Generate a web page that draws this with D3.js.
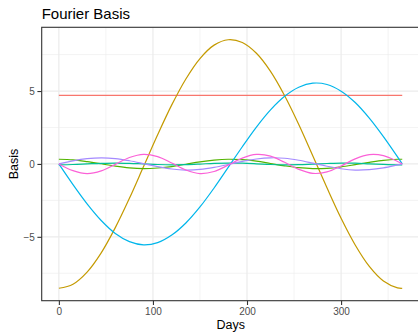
<!DOCTYPE html>
<html>
<head>
<meta charset="utf-8">
<script src="https://cdn.jsdelivr.net/npm/d3@7"></script>
<style>
  html, body { margin: 0; padding: 0; background: #fff; }
  svg { display: block; font-family: "Liberation Sans", Arial, Helvetica, sans-serif; }
</style>
</head>
<body>
<svg id="chart" width="418" height="333"></svg>
<script>
// Sample days over the year
const days = [0, 15, 30, 45, 60, 75, 90, 105, 120, 135, 150, 165, 180, 195, 210, 225, 240, 255, 270, 285, 300, 315, 330, 345, 360, 365];

// Weighted Fourier basis functions evaluated at those days
const constVals = [4.70, 4.70, 4.70, 4.70, 4.70, 4.70, 4.70, 4.70, 4.70, 4.70, 4.70, 4.70, 4.70, 4.70, 4.70, 4.70, 4.70, 4.70, 4.70, 4.70, 4.70, 4.70, 4.70, 4.70, 4.70, 4.70];
const cos1Vals = [-8.53, -8.25, -7.42, -6.10, -4.37, -2.36, -0.18, 2.00, 4.05, 5.83, 7.23, 8.15, 8.52, 8.33, 7.59, 6.35, 4.68, 2.71, 0.55, -1.64, -3.73, -5.56, -7.03, -8.03, -8.50, -8.53];
const cos2Vals = [0.32, 0.28, 0.16, 0.01, -0.15, -0.27, -0.32, -0.28, -0.18, -0.02, 0.14, 0.26, 0.32, 0.29, 0.19, 0.03, -0.13, -0.26, -0.32, -0.30, -0.20, -0.05, 0.11, 0.25, 0.32, 0.32];
const cos3Vals = [-0.06, -0.04, 0.00, 0.04, 0.06, 0.04, 0.00, -0.04, -0.06, -0.05, -0.01, 0.04, 0.06, 0.05, 0.01, -0.04, -0.06, -0.05, -0.01, 0.03, 0.06, 0.05, 0.01, -0.03, -0.06, -0.06];
const sin1Vals = [0.00, -1.42, -2.74, -3.88, -4.77, -5.33, -5.55, -5.40, -4.88, -4.05, -2.95, -1.65, -0.24, 1.18, 2.53, 3.71, 4.64, 5.26, 5.54, 5.45, 4.99, 4.21, 3.14, 1.87, 0.48, 0.00];
const sin2Vals = [0.00, 0.21, 0.36, 0.42, 0.37, 0.22, 0.02, -0.19, -0.35, -0.42, -0.38, -0.24, -0.04, 0.18, 0.34, 0.42, 0.39, 0.25, 0.05, -0.16, -0.33, -0.42, -0.39, -0.27, -0.07, 0.00];
const sin3Vals = [0.00, -0.46, -0.66, -0.48, -0.03, 0.44, 0.66, 0.50, 0.06, -0.42, -0.66, -0.52, -0.08, 0.40, 0.65, 0.54, 0.11, -0.37, -0.65, -0.55, -0.14, 0.35, 0.64, 0.57, 0.17, 0.00];

const basisNames = ["const", "cos1", "cos2", "cos3", "sin1", "sin2", "sin3"];
const basisValues = [constVals, cos1Vals, cos2Vals, cos3Vals, sin1Vals, sin2Vals, sin3Vals];
const basisColors = ["#F8766D", "#C49A00", "#53B400", "#00C094", "#00B6EB", "#A58AFF", "#FB61D7"];

const xTicks = [0, 100, 200, 300];
const xMinor = [50, 150, 250, 350];
const yTicks = [-5, 0, 5];
const yMinor = [-7.5, -2.5, 2.5, 7.5];

const titleText = "Fourier Basis";
const xTitle = "Days";
const yTitle = "Basis";

// Layout
const panel = { left: 41.7, top: 27.3, right: 419.4, bottom: 300.7 };

const svg = d3.select("#chart");

// Scales with 5% expansion on both sides
function expand(ext) {
  const d = (ext[1] - ext[0]) * 0.05;
  return [ext[0] - d, ext[1] + d];
}
const allVals = basisValues.flat();
const x = d3.scaleLinear().domain(expand(d3.extent(days))).range([panel.left, panel.right]);
const y = d3.scaleLinear().domain(expand(d3.extent(allVals))).range([panel.bottom, panel.top]);

// Panel background
svg.append("rect")
  .attr("x", panel.left).attr("y", panel.top)
  .attr("width", panel.right - panel.left).attr("height", panel.bottom - panel.top)
  .attr("fill", "#fff");

// Grid lines
const grid = svg.append("g");
grid.selectAll(".ymin").data(yMinor).join("line")
  .attr("x1", panel.left).attr("x2", panel.right)
  .attr("y1", d => y(d)).attr("y2", d => y(d))
  .attr("stroke", "#EBEBEB").attr("stroke-width", 0.6);
grid.selectAll(".xmin").data(xMinor).join("line")
  .attr("y1", panel.top).attr("y2", panel.bottom)
  .attr("x1", d => x(d)).attr("x2", d => x(d))
  .attr("stroke", "#EBEBEB").attr("stroke-width", 0.6);
grid.selectAll(".ymaj").data(yTicks).join("line")
  .attr("x1", panel.left).attr("x2", panel.right)
  .attr("y1", d => y(d)).attr("y2", d => y(d))
  .attr("stroke", "#EBEBEB").attr("stroke-width", 1.2);
grid.selectAll(".xmaj").data(xTicks).join("line")
  .attr("y1", panel.top).attr("y2", panel.bottom)
  .attr("x1", d => x(d)).attr("x2", d => x(d))
  .attr("stroke", "#EBEBEB").attr("stroke-width", 1.2);

// Basis curves
const line = d3.line()
  .x((d, i) => x(days[i]))
  .y(d => y(d))
  .curve(d3.curveCatmullRom.alpha(0.5));

svg.append("g").selectAll("path")
  .data(basisValues)
  .join("path")
  .attr("d", d => line(d))
  .attr("fill", "none")
  .attr("stroke", (d, i) => basisColors[i])
  .attr("stroke-width", 1.2);

// Panel border
svg.append("rect")
  .attr("x", panel.left).attr("y", panel.top)
  .attr("width", panel.right - panel.left).attr("height", panel.bottom - panel.top)
  .attr("fill", "none").attr("stroke", "#333333").attr("stroke-width", 1.1);

// Axes
const xAxis = d3.axisBottom(x).tickValues(xTicks).tickSize(4.3).tickPadding(2.5).tickSizeOuter(0);
const yAxis = d3.axisLeft(y).tickValues(yTicks).tickSize(4.3).tickPadding(2.5).tickSizeOuter(0);

const gx = svg.append("g").attr("transform", `translate(0,${panel.bottom})`).call(xAxis);
const gy = svg.append("g").attr("transform", `translate(${panel.left},0)`).call(yAxis);
[gx, gy].forEach(g => {
  g.select(".domain").remove();
  g.selectAll(".tick line").attr("stroke", "#333333").attr("stroke-width", 1.1);
  g.selectAll(".tick text").attr("fill", "#4D4D4D").style("font-size", "10px")
    .style("font-family", "'Liberation Sans', Arial, sans-serif");
});

// Titles
svg.append("text")
  .attr("x", panel.left).attr("y", 18.5)
  .attr("fill", "#000").style("font-size", "15px")
  .text(titleText);

svg.append("text")
  .attr("x", (panel.left + 402) / 2 + 9).attr("y", 329)
  .attr("text-anchor", "middle")
  .attr("fill", "#000").style("font-size", "12.5px")
  .text(xTitle);

svg.append("text")
  .attr("transform", `translate(17.5,${(panel.top + panel.bottom) / 2}) rotate(-90)`)
  .attr("text-anchor", "middle")
  .attr("fill", "#000").style("font-size", "12.5px")
  .text(yTitle);
</script>
</body>
</html>
